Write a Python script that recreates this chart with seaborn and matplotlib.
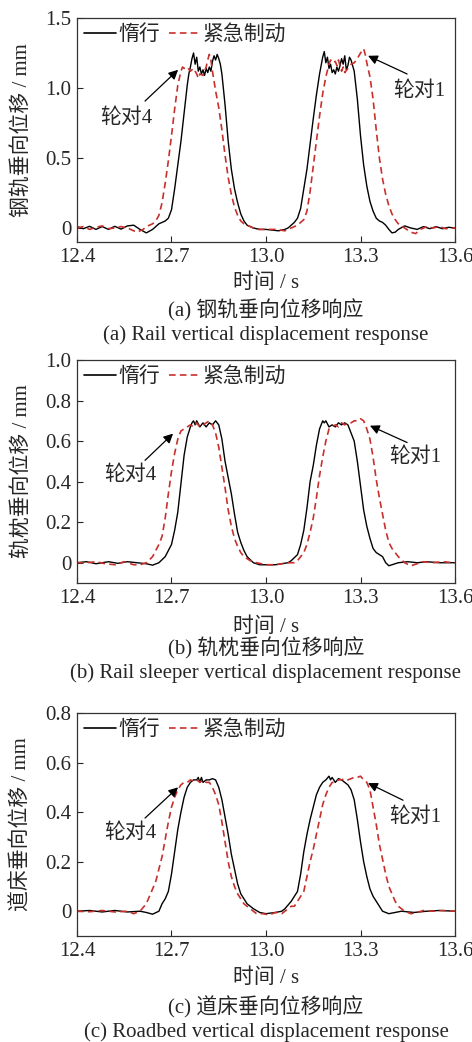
import numpy as np
import seaborn as sns
import matplotlib.pyplot as plt

# =========================
# Datos (t en s, desplazamiento en mm)
# =========================
# (a) carril
t_a_coast = [12.40, 12.42, 12.44, 12.46, 12.48, 12.50, 12.52, 12.54, 12.56, 12.58, 12.60, 12.62, 12.64, 12.66,
             12.68, 12.69, 12.70, 12.71, 12.72, 12.73, 12.74, 12.75, 12.755, 12.76, 12.765, 12.77, 12.775, 12.78,
             12.785, 12.79, 12.795, 12.80, 12.805, 12.81, 12.815, 12.82, 12.825, 12.83, 12.835, 12.84, 12.845,
             12.85, 12.855, 12.86, 12.87, 12.88, 12.89, 12.90, 12.91, 12.92, 12.93, 12.94, 12.96, 12.98, 13.00,
             13.02, 13.04, 13.06, 13.07, 13.08, 13.09, 13.10, 13.11, 13.12, 13.13, 13.14, 13.15, 13.16, 13.17,
             13.175, 13.18, 13.185, 13.19, 13.195, 13.20, 13.205, 13.21, 13.215, 13.22, 13.225, 13.23, 13.235,
             13.24, 13.245, 13.25, 13.255, 13.26, 13.265, 13.27, 13.275, 13.28, 13.29, 13.30, 13.31, 13.32, 13.33,
             13.34, 13.35, 13.36, 13.37, 13.38, 13.39, 13.40, 13.41, 13.42, 13.44, 13.46, 13.48, 13.50, 13.52,
             13.54, 13.56, 13.58, 13.60]
d_a_coast = [0.01, -0.005, 0.012, -0.01, 0.01, -0.01, 0.012, -0.008, 0.015, 0.02, -0.01, -0.035, -0.01, 0.03,
             0.05, 0.07, 0.13, 0.28, 0.45, 0.62, 0.82, 1.02, 1.10, 1.15, 1.21, 1.25, 1.17, 1.22,
             1.12, 1.15, 1.10, 1.13, 1.09, 1.14, 1.11, 1.15, 1.12, 1.19, 1.23, 1.20, 1.24,
             1.21, 1.17, 1.10, 0.88, 0.62, 0.42, 0.28, 0.18, 0.10, 0.05, 0.02, 0.0, -0.01, -0.01,
             -0.015, -0.02, -0.01, 0.0, 0.02, 0.04, 0.07, 0.14, 0.28, 0.42, 0.60, 0.78, 0.95, 1.10,
             1.16, 1.22, 1.26, 1.18, 1.22, 1.14, 1.17, 1.11, 1.13, 1.10, 1.15, 1.12, 1.16,
             1.21, 1.17, 1.23, 1.13, 1.16, 1.22, 1.20, 1.16, 1.12, 0.92, 0.66, 0.45, 0.30, 0.19,
             0.12, 0.07, 0.05, 0.04, 0.02, -0.01, -0.035, -0.03, -0.01, 0.015, 0.0, -0.01, 0.01, -0.005,
             0.01, -0.005, 0.005, 0.0]
t_a_brake = [12.40, 12.42, 12.44, 12.46, 12.48, 12.50, 12.52, 12.54, 12.56, 12.58, 12.59, 12.61, 12.62, 12.64,
             12.65, 12.66, 12.67, 12.68, 12.69, 12.70, 12.71, 12.72, 12.73, 12.735, 12.74, 12.75, 12.76, 12.77,
             12.78, 12.785, 12.79, 12.80, 12.81, 12.815, 12.82, 12.825, 12.83, 12.84, 12.85, 12.86, 12.87, 12.88,
             12.89, 12.90, 12.91, 12.92, 12.93, 12.95, 12.97, 13.00, 13.03, 13.06, 13.08, 13.10, 13.11, 13.12,
             13.13, 13.14, 13.15, 13.16, 13.17, 13.18, 13.19, 13.20, 13.205, 13.21, 13.22, 13.225, 13.23, 13.24,
             13.245, 13.25, 13.26, 13.27, 13.28, 13.29, 13.30, 13.31, 13.315, 13.32, 13.33, 13.34, 13.35, 13.36,
             13.37, 13.38, 13.39, 13.40, 13.41, 13.42, 13.44, 13.46, 13.475, 13.49, 13.51, 13.53, 13.55, 13.57,
             13.60]
d_a_brake = [0.0, 0.01, -0.01, 0.005, 0.015, -0.005, 0.0, 0.01, 0.0, -0.02, -0.03, -0.01, 0.01, 0.03,
             0.05, 0.09, 0.18, 0.32, 0.48, 0.66, 0.85, 1.02, 1.12, 1.15, 1.14, 1.15, 1.12, 1.14,
             1.10, 1.07, 1.10, 1.09, 1.15, 1.20, 1.24, 1.20, 1.12, 0.98, 0.86, 0.70, 0.52, 0.36,
             0.24, 0.15, 0.09, 0.05, 0.03, 0.01, -0.01, -0.01, -0.01, -0.02, 0.0, 0.02, 0.04, 0.06,
             0.12, 0.26, 0.44, 0.62, 0.80, 0.96, 1.08, 1.17, 1.20, 1.18, 1.19, 1.16, 1.20, 1.12,
             1.15, 1.11, 1.14, 1.17, 1.18, 1.21, 1.25, 1.28, 1.24, 1.18, 1.08, 0.92, 0.70, 0.50,
             0.35, 0.24, 0.16, 0.10, 0.06, 0.03, 0.0, -0.03, -0.04, -0.01, 0.01, 0.0, 0.01, -0.005,
             0.0]

# (b) traviesa
t_b_coast = [12.40, 12.43, 12.46, 12.50, 12.53, 12.56, 12.59, 12.62, 12.64, 12.66, 12.68, 12.70, 12.71, 12.72,
             12.73, 12.74, 12.75, 12.76, 12.765, 12.77, 12.775, 12.78, 12.79, 12.80, 12.81, 12.82, 12.83, 12.84,
             12.85, 12.86, 12.87, 12.88, 12.89, 12.90, 12.91, 12.92, 12.93, 12.94, 12.96, 12.98, 13.00, 13.03,
             13.05, 13.07, 13.08, 13.10, 13.11, 13.12, 13.13, 13.14, 13.15, 13.16, 13.17, 13.18, 13.185, 13.19,
             13.20, 13.21, 13.22, 13.23, 13.24, 13.25, 13.26, 13.27, 13.28, 13.29, 13.30, 13.31, 13.32, 13.33,
             13.34, 13.35, 13.36, 13.37, 13.38, 13.39, 13.40, 13.42, 13.45, 13.48, 13.51, 13.55, 13.60]
d_b_coast = [0.0, 0.005, -0.005, 0.005, -0.003, 0.005, 0.0, -0.005, -0.012, 0.0, 0.03, 0.09, 0.16, 0.25,
             0.39, 0.53, 0.62, 0.67, 0.69, 0.70, 0.68, 0.70, 0.67, 0.69, 0.67, 0.69, 0.68, 0.70,
             0.68, 0.61, 0.50, 0.42, 0.34, 0.24, 0.15, 0.10, 0.06, 0.03, 0.0, -0.01, -0.01, -0.01,
             -0.005, 0.0, 0.01, 0.04, 0.09, 0.16, 0.27, 0.40, 0.48, 0.58, 0.66, 0.70, 0.69, 0.70,
             0.67, 0.68, 0.67, 0.69, 0.68, 0.69, 0.68, 0.64, 0.60, 0.50, 0.38, 0.26, 0.18, 0.12,
             0.07, 0.05, 0.04, 0.03, 0.0, -0.015, -0.01, 0.0, 0.005, 0.0, 0.005, 0.0, 0.0]
t_b_brake = [12.40, 12.43, 12.46, 12.49, 12.52, 12.55, 12.58, 12.60, 12.62, 12.64, 12.65, 12.66, 12.67, 12.68,
             12.69, 12.70, 12.71, 12.72, 12.73, 12.74, 12.75, 12.76, 12.77, 12.78, 12.79, 12.80, 12.81, 12.82,
             12.83, 12.84, 12.85, 12.86, 12.87, 12.88, 12.89, 12.90, 12.91, 12.92, 12.93, 12.95, 12.97, 13.00,
             13.03, 13.05, 13.07, 13.09, 13.10, 13.12, 13.13, 13.14, 13.15, 13.16, 13.17, 13.18, 13.19, 13.20,
             13.21, 13.22, 13.23, 13.24, 13.25, 13.26, 13.27, 13.28, 13.29, 13.30, 13.31, 13.32, 13.33, 13.34,
             13.35, 13.36, 13.37, 13.38, 13.39, 13.40, 13.41, 13.42, 13.44, 13.46, 13.48, 13.50, 13.53, 13.56,
             13.60]
d_b_brake = [0.0, 0.0, 0.005, -0.005, -0.01, 0.005, -0.01, -0.01, 0.0, 0.03, 0.06, 0.09, 0.13, 0.22,
             0.34, 0.45, 0.54, 0.61, 0.65, 0.66, 0.67, 0.68, 0.67, 0.69, 0.67, 0.68, 0.69, 0.70,
             0.68, 0.64, 0.57, 0.47, 0.37, 0.26, 0.18, 0.12, 0.08, 0.05, 0.03, 0.01, 0.0, -0.01,
             -0.01, -0.005, 0.0, 0.0, 0.01, 0.05, 0.09, 0.15, 0.22, 0.32, 0.43, 0.52, 0.60, 0.66,
             0.67, 0.68, 0.67, 0.69, 0.68, 0.69, 0.69, 0.70, 0.70, 0.71, 0.70, 0.66, 0.61, 0.52,
             0.41, 0.32, 0.24, 0.16, 0.10, 0.07, 0.05, 0.03, 0.0, -0.015, -0.005, 0.005, 0.0, 0.005,
             0.0]

# (c) balasto
t_c_coast = [12.40, 12.44, 12.48, 12.52, 12.56, 12.60, 12.62, 12.64, 12.66, 12.67, 12.68, 12.69, 12.70, 12.71,
             12.72, 12.73, 12.74, 12.75, 12.76, 12.77, 12.78, 12.785, 12.79, 12.795, 12.80, 12.81, 12.82, 12.83,
             12.84, 12.85, 12.86, 12.87, 12.88, 12.89, 12.90, 12.91, 12.92, 12.93, 12.94, 12.96, 12.98, 13.00,
             13.03, 13.05, 13.06, 13.08, 13.09, 13.10, 13.11, 13.12, 13.13, 13.14, 13.15, 13.16, 13.17, 13.18,
             13.19, 13.20, 13.205, 13.21, 13.22, 13.23, 13.24, 13.25, 13.26, 13.27, 13.28, 13.29, 13.30, 13.31,
             13.32, 13.33, 13.34, 13.35, 13.36, 13.37, 13.39, 13.41, 13.43, 13.47, 13.51, 13.55, 13.60]
d_c_coast = [0.0, 0.003, -0.003, 0.003, -0.003, 0.0, -0.005, -0.012, 0.0, 0.03, 0.05, 0.08, 0.15, 0.24,
             0.33, 0.40, 0.46, 0.50, 0.52, 0.53, 0.53, 0.54, 0.52, 0.54, 0.52, 0.53, 0.53, 0.535,
             0.53, 0.50, 0.45, 0.38, 0.31, 0.23, 0.17, 0.11, 0.07, 0.05, 0.03, 0.01, -0.005, -0.01,
             -0.005, 0.0, 0.01, 0.04, 0.06, 0.08, 0.15, 0.24, 0.31, 0.37, 0.42, 0.47, 0.50, 0.52,
             0.53, 0.545, 0.53, 0.54, 0.52, 0.535, 0.53, 0.52, 0.51, 0.49, 0.45, 0.37, 0.28, 0.20,
             0.14, 0.09, 0.06, 0.04, 0.02, 0.0, -0.01, -0.005, 0.0, -0.005, 0.0, 0.003, 0.0]
t_c_brake = [12.40, 12.44, 12.48, 12.52, 12.56, 12.58, 12.60, 12.62, 12.63, 12.64, 12.65, 12.66, 12.67, 12.68,
             12.69, 12.70, 12.71, 12.72, 12.73, 12.74, 12.75, 12.76, 12.77, 12.78, 12.79, 12.80, 12.81, 12.82,
             12.83, 12.84, 12.85, 12.86, 12.87, 12.88, 12.89, 12.90, 12.91, 12.92, 12.93, 12.95, 12.97, 12.99,
             13.01, 13.03, 13.05, 13.07, 13.08, 13.09, 13.10, 13.11, 13.12, 13.13, 13.14, 13.15, 13.16, 13.17,
             13.18, 13.19, 13.20, 13.21, 13.22, 13.23, 13.24, 13.25, 13.26, 13.27, 13.28, 13.29, 13.30, 13.31,
             13.32, 13.33, 13.34, 13.35, 13.36, 13.37, 13.38, 13.39, 13.40, 13.41, 13.42, 13.44, 13.46, 13.48,
             13.50, 13.53, 13.56, 13.60]
d_c_brake = [0.0, -0.002, 0.003, -0.003, 0.0, -0.01, 0.0, 0.03, 0.06, 0.09, 0.12, 0.17, 0.22, 0.29,
             0.36, 0.42, 0.46, 0.49, 0.51, 0.52, 0.52, 0.53, 0.525, 0.53, 0.52, 0.53, 0.52, 0.52,
             0.50, 0.47, 0.43, 0.36, 0.28, 0.20, 0.14, 0.10, 0.07, 0.05, 0.03, 0.01, -0.01, -0.01,
             -0.015, -0.005, -0.01, 0.01, 0.02, 0.02, 0.04, 0.06, 0.08, 0.14, 0.20, 0.25, 0.31, 0.37,
             0.43, 0.47, 0.50, 0.52, 0.52, 0.53, 0.53, 0.535, 0.53, 0.535, 0.54, 0.54, 0.545, 0.53,
             0.52, 0.49, 0.42, 0.35, 0.27, 0.21, 0.15, 0.10, 0.07, 0.04, 0.02, 0.0, -0.01, -0.005,
             0.003, 0.0, 0.003, 0.0]

series_labels = ["惰行", "紧急制动"]
x_ticks = [12.4, 12.7, 13.0, 13.3, 13.6]
x_tick_labels = ["12.4", "12.7", "13.0", "13.3", "13.6"]

# =========================
# Configuración de cada panel
# =========================
panels = [
    dict(tc=t_a_coast, dc=d_a_coast, tb=t_a_brake, db=d_a_brake,
         ylim=(-0.1, 1.5), yticks=[0, 0.5, 1.0, 1.5], ylabels=["0", "0.5", "1.0", "1.5"],
         ylabel="钢轨垂向位移 / mm",
         cap_cn="(a) 钢轨垂向位移响应", cap_en="(a) Rail vertical displacement response",
         ann4=((12.721, 1.13), (12.616, 0.907), (12.556, 0.786)),
         ann1=((13.324, 1.23), (13.448, 1.10), (13.486, 0.98)),
         pos=[77, 18, 455, 242], lab_y=[283, 310, 335]),
    dict(tc=t_b_coast, dc=d_b_coast, tb=t_b_brake, db=d_b_brake,
         ylim=(-0.1, 1.0), yticks=[0, 0.2, 0.4, 0.6, 0.8, 1.0],
         ylabels=["0", "0.2", "0.4", "0.6", "0.8", "1.0"],
         ylabel="轨枕垂向位移 / mm",
         cap_cn="(b) 轨枕垂向位移响应", cap_en="(b) Rail sleeper vertical displacement response",
         ann4=((12.705, 0.637), (12.616, 0.505), (12.568, 0.43)),
         ann1=((13.330, 0.676), (13.448, 0.593), (13.473, 0.52)),
         pos=[77, 360, 455, 583], lab_y=[627, 648, 673]),
    dict(tc=t_c_coast, dc=d_c_coast, tb=t_c_brake, db=d_c_brake,
         ylim=(-0.1, 0.8), yticks=[0, 0.2, 0.4, 0.6, 0.8],
         ylabels=["0", "0.2", "0.4", "0.6", "0.8"],
         ylabel="道床垂向位移 / mm",
         cap_cn="(c) 道床垂向位移响应", cap_en="(c) Roadbed vertical displacement response",
         ann4=((12.721, 0.50), (12.616, 0.376), (12.568, 0.315)),
         ann1=((13.324, 0.517), (13.435, 0.448), (13.473, 0.38)),
         pos=[77, 713, 455, 936], lab_y=[978, 1007, 1032]),
]

# =========================
# Plot
# =========================
sns.set_style("ticks")
plt.rcParams['font.family'] = ['Liberation Serif', 'Noto Sans CJK SC']
plt.rcParams['font.size'] = 15
plt.rcParams['axes.unicode_minus'] = False

W, H = 472, 1042
fs = 15
fig = plt.figure(figsize=(W / 100, H / 100), dpi=100)
red = "#c8302c"

for p in panels:
    x0, y0, x1, y1 = p["pos"]
    ax = fig.add_axes([x0 / W, 1 - y1 / H, (x1 - x0) / W, (y1 - y0) / H])

    sns.lineplot(x=p["tc"], y=p["dc"], ax=ax, color="black", lw=1.0, label=series_labels[0])
    sns.lineplot(x=p["tb"], y=p["db"], ax=ax, color=red, lw=1.2, label=series_labels[1])
    ax.lines[1].set_dashes([4, 2.5])

    ax.set_xlim(12.4, 13.6)
    ax.set_ylim(*p["ylim"])
    ax.set_xticks(x_ticks)
    ax.set_xticklabels(x_tick_labels)
    ax.set_yticks(p["yticks"])
    ax.set_yticklabels(p["ylabels"])
    ax.tick_params(direction="in", length=4, width=0.8, labelsize=fs, pad=4)
    for s in ax.spines.values():
        s.set_linewidth(0.9)
        s.set_color("#333333")
    ax.set_ylabel(p["ylabel"], fontsize=fs, labelpad=10)
    ax.set_xlabel("")

    leg = ax.legend(loc="upper left", ncol=2, frameon=False, fontsize=fs,
                    handlelength=1.5, handletextpad=0.15, columnspacing=0.4,
                    borderaxespad=0.1, borderpad=0.25)
    for h in leg.get_lines():
        h.set_linewidth(1.2)

    for head, tail, txt_pos, txt in [(p["ann4"][0], p["ann4"][1], p["ann4"][2], "轮对4"),
                                    (p["ann1"][0], p["ann1"][1], p["ann1"][2], "轮对1")]:
        ax.annotate("", xy=head, xytext=tail,
                    arrowprops=dict(arrowstyle="-|>", color="black", lw=0.9,
                                    mutation_scale=14, shrinkA=0, shrinkB=0))
        ax.text(txt_pos[0], txt_pos[1], txt, ha="center", va="center", fontsize=fs)

    xc = (x0 + x1) / 2 / W
    fig.text(xc, 1 - p["lab_y"][0] / H, "时间 / s", ha="center", va="center", fontsize=fs)
    fig.text(xc, 1 - p["lab_y"][1] / H, p["cap_cn"], ha="center", va="center", fontsize=fs)
    fig.text(xc, 1 - p["lab_y"][2] / H, p["cap_en"], ha="center", va="center", fontsize=fs)

plt.savefig("out.png", dpi=100)
plt.close(fig)
